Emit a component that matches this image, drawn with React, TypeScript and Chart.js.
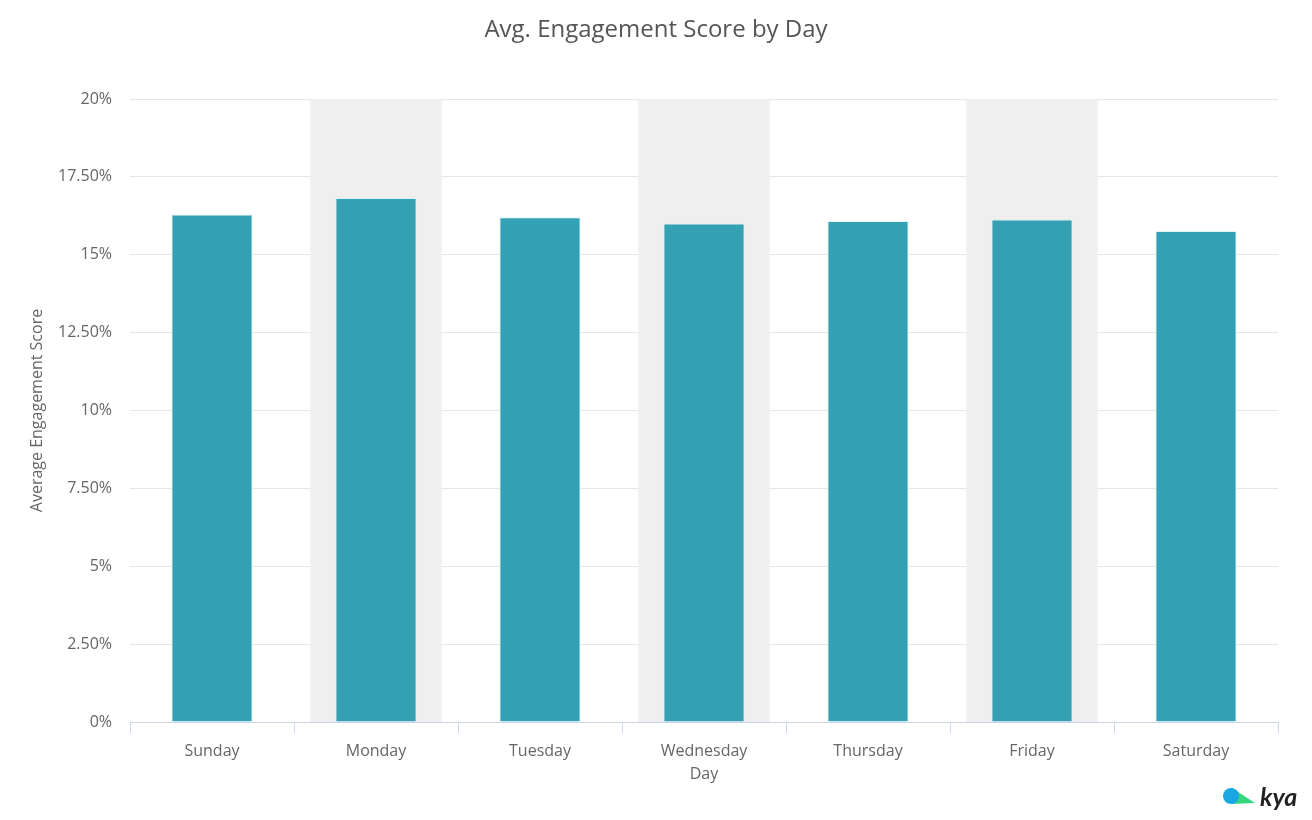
import React, { useEffect, useRef } from "react";
import { Chart, registerables } from "chart.js";

Chart.register(...registerables);

const days = ["Sunday", "Monday", "Tuesday", "Wednesday", "Thursday", "Friday", "Saturday"];
const scores = [16.29, 16.82, 16.2, 16.0, 16.08, 16.13, 15.76];
const bandDays = ["Monday", "Wednesday", "Friday"];
const chartTitle = "Avg. Engagement Score by Day";
const xTitle = "Day";
const yTitle = "Average Engagement Score";

const FONT = "'Open Sans', Lato, sans-serif";

const bandsPlugin = {
  id: "bands",
  beforeDatasetsDraw(chart: any) {
    const { ctx, chartArea, scales } = chart;
    const x = scales.x;
    const cat = (chartArea.right - chartArea.left) / days.length;
    ctx.save();
    ctx.fillStyle = "#efefef";
    bandDays.forEach((d) => {
      const i = days.indexOf(d);
      const c = x.getPixelForValue(i);
      const w = cat * 0.8;
      ctx.fillRect(c - w / 2, chartArea.top, w, chartArea.bottom - chartArea.top);
    });
    ctx.restore();
  },
};

const decorPlugin = {
  id: "decor",
  afterDraw(chart: any) {
    const { ctx, width } = chart;
    ctx.save();
    ctx.fillStyle = "#555555";
    ctx.font = `24px ${FONT}`;
    ctx.textAlign = "center";
    ctx.textBaseline = "middle";
    ctx.fillText(chartTitle, width / 2, 30);
    // logo
    ctx.fillStyle = "#34d67e";
    ctx.beginPath();
    ctx.moveTo(1232, 788);
    ctx.lineTo(1255, 803);
    ctx.lineTo(1232, 804);
    ctx.closePath();
    ctx.fill();
    ctx.fillStyle = "#1aa6e0";
    ctx.beginPath();
    ctx.arc(1231, 796, 8, 0, Math.PI * 2);
    ctx.fill();
    ctx.fillStyle = "#222222";
    ctx.font = `italic bold 25px Lato, sans-serif`;
    ctx.textAlign = "left";
    ctx.textBaseline = "alphabetic";
    ctx.fillText("kya", 1260, 806);
    ctx.restore();
  },
};

function fmt(v: number) {
  if (Number.isInteger(v)) return `${v}%`;
  return `${v.toFixed(2)}%`;
}

export default function App() {
  const ref = useRef<HTMLCanvasElement>(null);
  useEffect(() => {
    document.body.style.margin = "0";
    const chart = new Chart(ref.current as HTMLCanvasElement, {
      type: "bar",
      data: {
        labels: days,
        datasets: [
          {
            data: scores,
            backgroundColor: "#34a0b4",
            borderColor: "rgba(220,240,245,0.8)",
            borderWidth: 1,
            barPercentage: 0.495,
            categoryPercentage: 1,
          },
        ],
      },
      options: {
        responsive: false,
        animation: false,
        layout: { padding: { top: 99, right: 34, left: 0, bottom: 0 } },
        plugins: {
          legend: { display: false },
          tooltip: { enabled: false },
          title: { display: false },
        },
        scales: {
          x: {
            afterFit(s: any) {
              s.height = 98;
            },
            border: { display: true, color: "#ccd6eb", width: 1 },
            grid: {
              display: true,
              drawOnChartArea: false,
              drawTicks: true,
              tickLength: 11,
              color: "#ccd6eb",
              offset: true,
            },
            ticks: {
              color: "#666666",
              font: { family: FONT, size: 16 },
              padding: 9,
              maxRotation: 0,
            },
            title: {
              display: true,
              text: xTitle,
              color: "#666666",
              font: { family: FONT, size: 16 },
              padding: { bottom: 36, top: 0 },
            },
          },
          y: {
            min: 0,
            max: 20,
            afterFit(s: any) {
              s.width = 130;
            },
            border: { display: false },
            grid: { color: "#e6e6e6", drawTicks: false, lineWidth: 1 },
            ticks: {
              stepSize: 2.5,
              color: "#666666",
              font: { family: FONT, size: 16 },
              padding: 18,
              callback: (v: any) => fmt(Number(v)),
            },
            title: {
              display: true,
              text: yTitle,
              color: "#666666",
              font: { family: FONT, size: 16 },
              padding: { top: 28, bottom: 0 },
            },
          },
        },
      },
      plugins: [bandsPlugin, decorPlugin],
    });
    return () => chart.destroy();
  }, []);
  return (
    <div style={{ width: 1312, height: 820, background: "#ffffff" }}>
      <canvas ref={ref} width={1312} height={820} style={{ display: "block" }} />
    </div>
  );
}
